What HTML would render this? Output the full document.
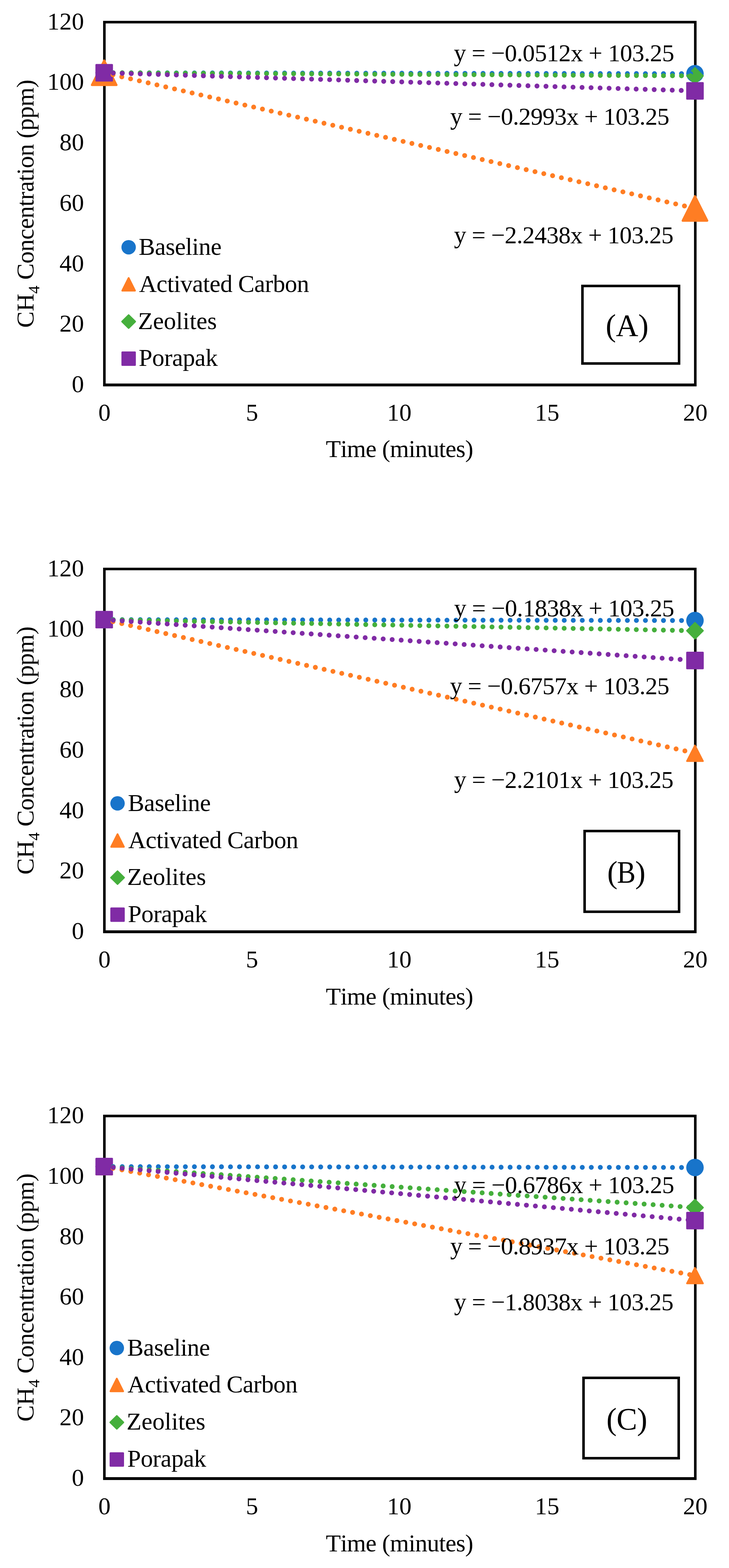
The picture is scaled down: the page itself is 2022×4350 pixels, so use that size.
<!DOCTYPE html>
<html><head><meta charset="utf-8"><title>CH4 Concentration</title>
<style>html,body{margin:0;padding:0;background:#fff;width:2022px;height:4350px;overflow:hidden}svg{display:block}text{font-kerning:none}</style>
</head><body>
<svg width="2022" height="4350" viewBox="0 0 2022 4350" font-family="'Liberation Serif', 'Times New Roman', serif" style="font-kerning:none">
<rect width="2022" height="4350" fill="#fff"/>
<rect x="289.50" y="61.40" width="1639.00" height="1006.50" fill="none" stroke="#000" stroke-width="7.1"/><rect x="285.95" y="1064.00" width="1646.10" height="7.8" fill="#000"/>
<circle cx="289.00" cy="201.89" r="24.25" fill="#1874CA"/>
<circle cx="1927.60" cy="204.41" r="24.25" fill="#1874CA"/>
<path d="M289.00 167.99L323.00 235.79L255.00 235.79Z" fill="#FF7D23" stroke="#FF7D23" stroke-width="6.0" stroke-linejoin="round"/>
<path d="M1927.60 544.39L1961.60 612.19L1893.60 612.19Z" fill="#FF7D23" stroke="#FF7D23" stroke-width="6.0" stroke-linejoin="round"/>
<path d="M289.00 179.84L311.30 201.89L289.00 223.94L266.70 201.89Z" fill="#45AF3C" stroke="#45AF3C" stroke-width="4.4" stroke-linejoin="round"/>
<path d="M1927.60 188.43L1949.90 210.48L1927.60 232.53L1905.30 210.48Z" fill="#45AF3C" stroke="#45AF3C" stroke-width="4.4" stroke-linejoin="round"/>
<rect x="264.65" y="177.54" width="48.70" height="48.70" rx="2.5" fill="#802BA5"/>
<rect x="1903.25" y="227.75" width="48.70" height="48.70" rx="2.5" fill="#802BA5"/>
<path d="M314.02 201.93L1928.50 204.41" stroke="#1874CA" stroke-width="13.6" stroke-linecap="round" stroke-dasharray="0 25.02" fill="none"/>
<path d="M313.39 207.49L1928.50 578.29" stroke="#FF7D23" stroke-width="13.6" stroke-linecap="round" stroke-dasharray="0 25.02" fill="none"/>
<path d="M314.02 202.02L1928.50 210.48" stroke="#45AF3C" stroke-width="13.6" stroke-linecap="round" stroke-dasharray="0 25.02" fill="none"/>
<path d="M314.01 202.66L1928.50 252.10" stroke="#802BA5" stroke-width="13.6" stroke-linecap="round" stroke-dasharray="0 25.02" fill="none"/>
<rect x="1615.50" y="793.30" width="268.00" height="215.10" fill="none" stroke="#000" stroke-width="7.0"/>
<circle cx="356.80" cy="685.90" r="20.00" fill="#1874CA"/>
<path d="M356.80 771.40L374.20 806.20L339.40 806.20Z" fill="#FF7D23" stroke="#FF7D23" stroke-width="5.2" stroke-linejoin="round"/>
<path d="M356.80 874.10L375.10 892.10L356.80 910.10L338.50 892.10Z" fill="#45AF3C" stroke="#45AF3C" stroke-width="4.4" stroke-linejoin="round"/>
<rect x="336.80" y="974.90" width="40.00" height="40.00" rx="2.5" fill="#802BA5"/>
<g font-size="68" fill="#000"><text x="198.89" y="1088.10">0</text><text x="164.89" y="920.35">20</text><text x="164.89" y="752.60">40</text><text x="164.89" y="584.85">60</text><text x="164.89" y="417.10">80</text><text x="130.89" y="249.35">100</text><text x="130.89" y="81.60">120</text><text x="272.80" y="1167.10">0</text><text x="681.90" y="1167.10">5</text><text x="1073.61" y="1167.10">10</text><text x="1483.39" y="1167.10">15</text><text x="1894.60" y="1167.10">20</text><text x="903.77" y="1268.40" letter-spacing="-0.915">Time (minutes)</text><text transform="translate(92.8 909.19) rotate(-90)">CH<tspan font-size="45" dy="16.2">4</tspan><tspan dy="-16.2" letter-spacing="-0.736"> Concentration (ppm)</tspan></text><text x="1258.67" y="170.30" letter-spacing="-0.678">y = −0.0512x + 103.25</text><text x="1248.77" y="346.00" letter-spacing="-0.848">y = −0.2993x + 103.25</text><text x="1259.17" y="675.40" letter-spacing="-0.798">y = −2.2438x + 103.25</text><text x="384.84" y="707.00" letter-spacing="-0.619">Baseline</text><text x="385.64" y="810.00" letter-spacing="-0.635">Activated Carbon</text><text x="382.75" y="912.80" letter-spacing="-0.061">Zeolites</text><text x="384.84" y="1015.00" letter-spacing="-0.628">Porapak</text><text x="1679.92" y="931.60" letter-spacing="-0.263" font-size="86">(A)</text></g>
<rect x="289.50" y="1578.50" width="1639.00" height="1006.40" fill="none" stroke="#000" stroke-width="7.1"/><rect x="285.95" y="2581.00" width="1646.10" height="7.8" fill="#000"/>
<circle cx="289.00" cy="1718.98" r="24.25" fill="#1874CA"/>
<circle cx="1927.60" cy="1721.49" r="24.25" fill="#1874CA"/>
<path d="M289.00 1697.18L311.30 1740.78L266.70 1740.78Z" fill="#FF7D23" stroke="#FF7D23" stroke-width="4.4" stroke-linejoin="round"/>
<path d="M1927.60 2067.88L1949.90 2111.48L1905.30 2111.48Z" fill="#FF7D23" stroke="#FF7D23" stroke-width="4.4" stroke-linejoin="round"/>
<path d="M289.00 1696.93L311.30 1718.98L289.00 1741.03L266.70 1718.98Z" fill="#45AF3C" stroke="#45AF3C" stroke-width="4.4" stroke-linejoin="round"/>
<path d="M1927.60 1727.76L1949.90 1749.81L1927.60 1771.86L1905.30 1749.81Z" fill="#45AF3C" stroke="#45AF3C" stroke-width="4.4" stroke-linejoin="round"/>
<rect x="264.65" y="1694.63" width="48.70" height="48.70" rx="2.5" fill="#802BA5"/>
<rect x="1903.25" y="1807.96" width="48.70" height="48.70" rx="2.5" fill="#802BA5"/>
<path d="M314.02 1719.02L1928.50 1721.49" stroke="#1874CA" stroke-width="13.6" stroke-linecap="round" stroke-dasharray="0 25.02" fill="none"/>
<path d="M313.40 1724.49L1928.50 2089.68" stroke="#FF7D23" stroke-width="13.6" stroke-linecap="round" stroke-dasharray="0 25.02" fill="none"/>
<path d="M314.02 1719.45L1928.50 1749.81" stroke="#45AF3C" stroke-width="13.6" stroke-linecap="round" stroke-dasharray="0 25.02" fill="none"/>
<path d="M313.96 1720.70L1928.50 1832.31" stroke="#802BA5" stroke-width="13.6" stroke-linecap="round" stroke-dasharray="0 25.02" fill="none"/>
<rect x="1621.50" y="2305.50" width="262.00" height="223.90" fill="none" stroke="#000" stroke-width="7.0"/>
<circle cx="326.00" cy="2228.80" r="20.00" fill="#1874CA"/>
<path d="M326.00 2314.40L343.40 2349.20L308.60 2349.20Z" fill="#FF7D23" stroke="#FF7D23" stroke-width="5.2" stroke-linejoin="round"/>
<path d="M326.00 2416.80L344.30 2434.80L326.00 2452.80L307.70 2434.80Z" fill="#45AF3C" stroke="#45AF3C" stroke-width="4.4" stroke-linejoin="round"/>
<rect x="306.00" y="2517.60" width="40.00" height="40.00" rx="2.5" fill="#802BA5"/>
<g font-size="68" fill="#000"><text x="198.89" y="2605.10">0</text><text x="164.89" y="2437.37">20</text><text x="164.89" y="2269.63">40</text><text x="164.89" y="2101.90">60</text><text x="164.89" y="1934.17">80</text><text x="130.89" y="1766.43">100</text><text x="130.89" y="1598.70">120</text><text x="272.80" y="2684.10">0</text><text x="681.90" y="2684.10">5</text><text x="1073.61" y="2684.10">10</text><text x="1483.39" y="2684.10">15</text><text x="1894.60" y="2684.10">20</text><text x="903.77" y="2787.30" letter-spacing="-0.915">Time (minutes)</text><text transform="translate(92.8 2426.29) rotate(-90)">CH<tspan font-size="45" dy="16.2">4</tspan><tspan dy="-16.2" letter-spacing="-0.736"> Concentration (ppm)</tspan></text><text x="1259.47" y="1710.10" letter-spacing="-0.718">y = −0.1838x + 103.25</text><text x="1248.07" y="1926.00" letter-spacing="-0.813">y = −0.6757x + 103.25</text><text x="1259.47" y="2186.20" letter-spacing="-0.813">y = −2.2101x + 103.25</text><text x="354.84" y="2250.00" letter-spacing="-0.619">Baseline</text><text x="355.64" y="2352.90" letter-spacing="-0.635">Activated Carbon</text><text x="352.75" y="2454.80" letter-spacing="-0.061">Zeolites</text><text x="354.84" y="2557.60" letter-spacing="-0.628">Porapak</text><text x="1684.22" y="2449.00" font-size="86">(</text><text transform="translate(1711.27 2449.00) scale(0.9 1)" font-size="86">B</text><text x="1761.64" y="2449.00" font-size="86">)</text></g>
<rect x="289.50" y="3096.00" width="1639.00" height="1005.90" fill="none" stroke="#000" stroke-width="7.1"/><rect x="285.95" y="4098.00" width="1646.10" height="7.8" fill="#000"/>
<circle cx="289.00" cy="3236.41" r="24.25" fill="#1874CA"/>
<circle cx="1927.60" cy="3238.92" r="24.25" fill="#1874CA"/>
<path d="M289.00 3214.61L311.30 3258.21L266.70 3258.21Z" fill="#FF7D23" stroke="#FF7D23" stroke-width="4.4" stroke-linejoin="round"/>
<path d="M1927.60 3517.01L1949.90 3560.61L1905.30 3560.61Z" fill="#FF7D23" stroke="#FF7D23" stroke-width="4.4" stroke-linejoin="round"/>
<path d="M289.00 3214.36L311.30 3236.41L289.00 3258.46L266.70 3236.41Z" fill="#45AF3C" stroke="#45AF3C" stroke-width="4.4" stroke-linejoin="round"/>
<path d="M1927.60 3328.12L1949.90 3350.17L1927.60 3372.22L1905.30 3350.17Z" fill="#45AF3C" stroke="#45AF3C" stroke-width="4.4" stroke-linejoin="round"/>
<rect x="264.65" y="3212.06" width="48.70" height="48.70" rx="2.5" fill="#802BA5"/>
<rect x="1903.25" y="3361.89" width="48.70" height="48.70" rx="2.5" fill="#802BA5"/>
<path d="M314.02 3236.45L1928.50 3238.92" stroke="#1874CA" stroke-width="13.6" stroke-linecap="round" stroke-dasharray="0 25.02" fill="none"/>
<path d="M313.60 3240.95L1928.50 3538.81" stroke="#FF7D23" stroke-width="13.6" stroke-linecap="round" stroke-dasharray="0 25.02" fill="none"/>
<path d="M313.96 3238.14L1928.50 3350.17" stroke="#45AF3C" stroke-width="13.6" stroke-linecap="round" stroke-dasharray="0 25.02" fill="none"/>
<path d="M313.92 3238.68L1928.50 3386.24" stroke="#802BA5" stroke-width="13.6" stroke-linecap="round" stroke-dasharray="0 25.02" fill="none"/>
<rect x="1618.50" y="3822.50" width="264.00" height="222.90" fill="none" stroke="#000" stroke-width="7.0"/>
<circle cx="324.00" cy="3739.80" r="20.00" fill="#1874CA"/>
<path d="M324.00 3824.80L341.40 3859.60L306.60 3859.60Z" fill="#FF7D23" stroke="#FF7D23" stroke-width="5.2" stroke-linejoin="round"/>
<path d="M324.00 3928.00L342.30 3946.00L324.00 3964.00L305.70 3946.00Z" fill="#45AF3C" stroke="#45AF3C" stroke-width="4.4" stroke-linejoin="round"/>
<rect x="304.00" y="4028.90" width="40.00" height="40.00" rx="2.5" fill="#802BA5"/>
<g font-size="68" fill="#000"><text x="198.89" y="4122.10">0</text><text x="164.89" y="3954.45">20</text><text x="164.89" y="3786.80">40</text><text x="164.89" y="3619.15">60</text><text x="164.89" y="3451.50">80</text><text x="130.89" y="3283.85">100</text><text x="130.89" y="3116.20">120</text><text x="272.80" y="4201.10">0</text><text x="681.90" y="4201.10">5</text><text x="1073.61" y="4201.10">10</text><text x="1483.39" y="4201.10">15</text><text x="1894.60" y="4201.10">20</text><text x="903.77" y="4303.50" letter-spacing="-0.915">Time (minutes)</text><text transform="translate(92.8 3943.79) rotate(-90)">CH<tspan font-size="45" dy="16.2">4</tspan><tspan dy="-16.2" letter-spacing="-0.736"> Concentration (ppm)</tspan></text><text x="1259.47" y="3310.30" letter-spacing="-0.718">y = −0.6786x + 103.25</text><text x="1248.77" y="3480.20" letter-spacing="-0.848">y = −0.8937x + 103.25</text><text x="1259.47" y="3635.40" letter-spacing="-0.813">y = −1.8038x + 103.25</text><text x="352.84" y="3761.00" letter-spacing="-0.619">Baseline</text><text x="353.64" y="3862.90" letter-spacing="-0.635">Activated Carbon</text><text x="351.05" y="3965.70" letter-spacing="-0.061">Zeolites</text><text x="353.04" y="4068.90" letter-spacing="-0.628">Porapak</text><text x="1681.92" y="3966.00" letter-spacing="-0.590" font-size="86">(C)</text></g>
</svg>
</body></html>
